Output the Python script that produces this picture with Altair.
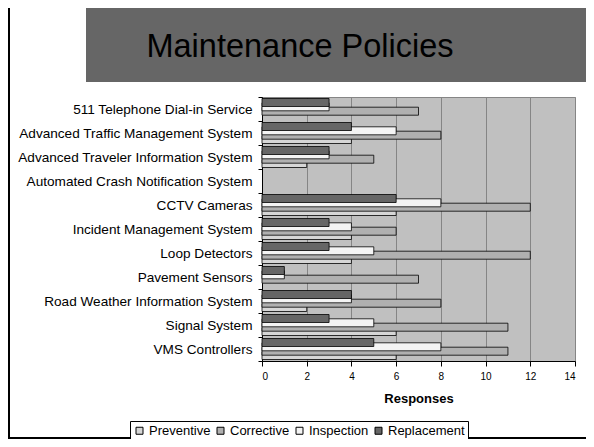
import altair as alt
import pandas as pd

# ---- data ----
systems = [
    "511 Telephone Dial-in Service",
    "Advanced Traffic Management System",
    "Advanced Traveler Information System",
    "Automated Crash Notification System",
    "CCTV Cameras",
    "Incident Management System",
    "Loop Detectors",
    "Pavement Sensors",
    "Road Weather Information System",
    "Signal System",
    "VMS Controllers",
]
preventive = [0, 4, 2, 0, 6, 4, 4, 0, 2, 6, 6]
corrective = [7, 8, 5, 0, 12, 6, 12, 7, 8, 11, 11]
inspection = [3, 6, 3, 0, 8, 4, 5, 1, 4, 5, 8]
replacement = [3, 4, 3, 0, 6, 3, 3, 1, 4, 3, 5]
policies = ["Preventive", "Corrective", "Inspection", "Replacement"]
x_ticks = [0, 2, 4, 6, 8, 10, 12, 14]
title_text = "Maintenance Policies"
x_title = "Responses"

# ---- styling ----
colors = ["#d6d6d6", "#b0b0b0", "#f4f4f4", "#666666"]
offsets = {"Preventive": 6.5, "Corrective": 2.2, "Inspection": -2.2, "Replacement": -6.5}
FONT = "Liberation Sans"

series = dict(zip(policies, [preventive, corrective, inspection, replacement]))
rows = []
for p in policies:
    for s, v in zip(systems, series[p]):
        rows.append({"System": s, "Policy": p, "Responses": v})
df = pd.DataFrame(rows)

color = alt.Color(
    "Policy:N",
    scale=alt.Scale(domain=policies, range=colors),
    legend=alt.Legend(
        title=None, orient="none", legendX=-132, legendY=324,
        direction="horizontal", columns=4,
        symbolType="square", symbolSize=49,
        symbolStrokeColor="black", symbolStrokeWidth=1,
        labelFontSize=13, labelFont=FONT, labelColor="black",
        labelOffset=3, columnPadding=3,
        strokeColor="black", fillColor="white", padding=3,
    ),
)

x_enc = alt.X(
    "Responses:Q",
    scale=alt.Scale(domain=[0, 14], nice=False),
    axis=alt.Axis(
        values=x_ticks, title=x_title, grid=True, gridColor="#858585",
        tickColor="black", tickSize=5, domainColor="black",
        labelFontSize=10, labelFont=FONT, labelColor="black", labelPadding=5,
        titleFontSize=13, titleFont=FONT, titleFontWeight="bold",
        titleColor="black", titlePadding=11,
    ),
)
y_enc = alt.Y(
    "System:N",
    sort=systems,
    scale=alt.Scale(domain=systems, paddingInner=0, paddingOuter=0),
    axis=alt.Axis(
        title=None, grid=False, tickBand="extent", tickSize=4,
        tickColor="black", domainColor="black",
        labelFontSize=13.6, labelFont=FONT, labelColor="black",
        labelPadding=6, labelLimit=0,
    ),
)

layers = []
for p in policies:
    layers.append(
        alt.Chart(df)
        .transform_filter((alt.datum.Policy == p) & (alt.datum.Responses > 0))
        .mark_bar(size=8, yOffset=offsets[p], stroke="black", strokeWidth=0.8)
        .encode(x=x_enc, y=y_enc, color=color)
    )

deco = pd.DataFrame({"t": [title_text]})
banner = alt.Chart(deco).mark_rect(color="#666666").encode(
    x=alt.value(-176), x2=alt.value(324), y=alt.value(-89), y2=alt.value(-15)
)
title = alt.Chart(deco).mark_text(
    font=FONT, fontSize=32.5, color="black", align="center", baseline="alphabetic"
).encode(x=alt.value(38), y=alt.value(-40), text="t:N")
left_line = alt.Chart(deco).mark_rule(color="black", strokeWidth=2).encode(
    x=alt.value(-253), y=alt.value(-89), y2=alt.value(341)
)
bottom_line = alt.Chart(deco).mark_rule(color="black", strokeWidth=2).encode(
    x=alt.value(-254), x2=alt.value(324), y=alt.value(341)
)

chart = (
    alt.layer(banner, title, left_line, bottom_line, *layers)
    .properties(
        width=313, height=264,
        autosize=alt.AutoSizeParams(type="none"),
        padding={"left": 254, "top": 89, "right": 11, "bottom": 78},
        background="white",
    )
    .configure_view(fill="#c0c0c0", stroke="#858585")
)

chart.save("out.html", embed_options={"renderer": "svg", "actions": False})
